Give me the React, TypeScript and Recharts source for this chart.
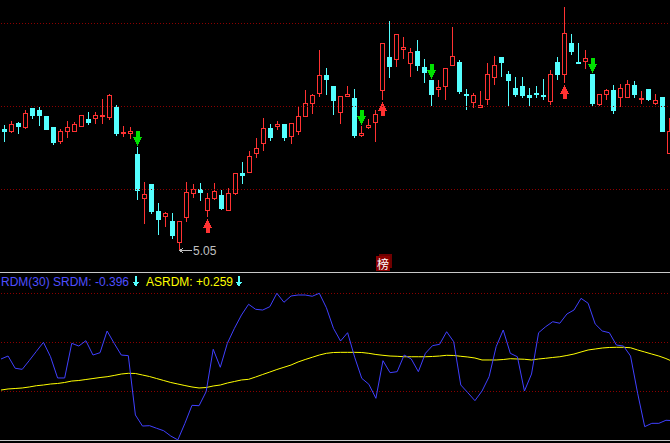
import { Bar, ComposedChart, Line, ReferenceLine, XAxis, YAxis } from "recharts";

// daily candles, price units
const OPEN = [
  6.263, 6.243, 6.323, 6.283, 6.47, 6.45, 6.39, 6.28, 6.143, 6.243,
  6.243, 6.287, 6.36, 6.373, 6.39, 6.383, 6.48, 6.217, 6.223, 6.01,
  5.573, 5.71, 5.44, 5.393, 5.34, 5.133, 5.383, 5.617, 5.66, 5.453,
  5.573, 5.6, 5.453, 5.623, 5.817, 5.833, 6.023, 6.123, 6.27, 6.293,
  6.31, 6.193, 6.243, 6.393, 6.517, 6.623, 6.8, 6.69, 6.433, 6.593,
  6.57, 6.203, 6.283, 6.333, 6.653, 6.98, 6.957, 7.063, 6.923, 7.04,
  6.88, 6.75, 6.663, 6.693, 6.903, 6.93, 6.61, 6.527, 6.483, 6.557,
  6.783, 6.98, 6.81, 6.67, 6.69, 6.6, 6.623, 6.603, 6.543, 6.93,
  6.813, 7.12, 6.93, 6.94, 6.81, 6.513, 6.613, 6.65, 6.58, 6.58,
  6.7, 6.56, 6.66, 6.523, 6.58, 6.023,
];
const HIGH = [
  6.3, 6.337, 6.333, 6.447, 6.47, 6.477, 6.39, 6.28, 6.26, 6.34,
  6.327, 6.397, 6.43, 6.43, 6.56, 6.61, 6.5, 6.29, 6.28, 6.08,
  5.73, 5.71, 5.52, 5.427, 5.42, 5.34, 5.73, 5.71, 5.72, 5.62,
  5.72, 5.65, 5.67, 5.817, 5.93, 6.04, 6.17, 6.37, 6.31, 6.34,
  6.31, 6.317, 6.48, 6.65, 6.61, 7.05, 6.87, 6.69, 6.587, 6.69,
  6.66, 6.293, 6.36, 6.447, 7.12, 7.34, 7.21, 7.18, 7.07, 7.15,
  6.96, 6.75, 6.75, 6.87, 7.28, 6.947, 6.66, 6.62, 6.64, 6.92,
  6.99, 6.98, 6.84, 6.78, 6.78, 6.67, 6.69, 6.76, 6.85, 6.98,
  7.48, 7.21, 7.12, 7.05, 6.81, 6.607, 6.663, 6.7, 6.71, 6.75,
  6.74, 6.64, 6.66, 6.61, 6.58, 6.373,
];
const LOW = [
  6.14, 6.23, 6.223, 6.27, 6.373, 6.303, 6.263, 6.113, 6.123, 6.18,
  6.243, 6.287, 6.31, 6.323, 6.323, 6.36, 6.203, 6.193, 6.173, 5.56,
  5.32, 5.42, 5.21, 5.293, 5.173, 5.05, 5.343, 5.583, 5.553, 5.39,
  5.56, 5.457, 5.453, 5.613, 5.723, 5.833, 5.98, 6.053, 6.15, 6.26,
  6.153, 6.123, 6.213, 6.393, 6.423, 6.593, 6.613, 6.413, 6.323, 6.593,
  6.183, 6.19, 6.27, 6.143, 6.563, 6.783, 6.893, 6.97, 6.79, 6.85,
  6.733, 6.5, 6.593, 6.563, 6.903, 6.623, 6.463, 6.483, 6.483, 6.513,
  6.713, 6.79, 6.5, 6.59, 6.58, 6.49, 6.58, 6.56, 6.513, 6.76,
  6.733, 7.01, 6.92, 6.87, 6.5, 6.503, 6.56, 6.42, 6.49, 6.58,
  6.58, 6.52, 6.55, 6.51, 6.243, 6.023,
];
const CLOSE = [
  6.24, 6.31, 6.293, 6.417, 6.403, 6.403, 6.263, 6.13, 6.24, 6.277,
  6.31, 6.397, 6.333, 6.4, 6.4, 6.6, 6.22, 6.23, 6.237, 5.653,
  5.61, 5.44, 5.363, 5.42, 5.2, 5.34, 5.63, 5.66, 5.633, 5.57,
  5.637, 5.47, 5.617, 5.817, 5.797, 5.99, 6.067, 6.27, 6.183, 6.307,
  6.183, 6.317, 6.39, 6.52, 6.6, 6.8, 6.76, 6.553, 6.587, 6.607,
  6.203, 6.22, 6.297, 6.41, 7.12, 6.893, 7.21, 7.077, 7.027, 6.9,
  6.833, 6.613, 6.677, 6.87, 6.99, 6.643, 6.597, 6.6, 6.5, 6.807,
  6.897, 6.93, 6.75, 6.61, 6.6, 6.58, 6.61, 6.59, 6.81, 6.81,
  7.22, 7.04, 6.92, 6.97, 6.52, 6.607, 6.65, 6.453, 6.67, 6.71,
  6.61, 6.573, 6.56, 6.55, 6.243, 6.24,
];

// signal markers (candle index)
const BUY_AT = [29, 54, 80];
const SELL_AT = [19, 51, 61, 84];

// RDM(30) indicator
const SRDM = [
  0.289, 0.322, 0.186, 0.174, 0.272, 0.374, 0.474, 0.314, 0.078, 0.078,
  0.463, 0.433, 0.492, 0.333, 0.359, 0.6, 0.463, 0.333, 0.326, -0.333,
  -0.456, -0.452, -0.481, -0.508, -0.567, -0.61, -0.426, -0.226, -0.23, -0.074,
  0.397, 0.197, 0.463, 0.63, 0.778, 0.897, 0.841, 0.833, 0.87, 1.019,
  0.919, 0.989, 1.0, 1.0, 0.986, 1.019, 0.859, 0.63, 0.489, 0.581,
  0.308, 0.074, 0.008, -0.148, 0.27, 0.137, 0.148, 0.333, 0.289, 0.148,
  0.352, 0.437, 0.452, 0.592, 0.481, 0.0, -0.086, -0.174, -0.067, 0.092,
  0.426, 0.611, 0.352, 0.314, -0.067, 0.122, 0.581, 0.648, 0.703, 0.686,
  0.789, 0.833, 0.963, 0.908, 0.678, 0.6, 0.581, 0.444, 0.433, 0.322,
  -0.092, -0.463, -0.426, -0.426, -0.392, -0.396,
];
const ASRDM = [
  -0.056, -0.044, -0.039, -0.033, -0.022, -0.008, 0.0, 0.011, 0.017, 0.028,
  0.044, 0.05, 0.061, 0.072, 0.083, 0.092, 0.106, 0.122, 0.13, 0.128,
  0.111, 0.094, 0.072, 0.05, 0.028, 0.011, -0.006, -0.022, -0.033, -0.028,
  -0.011, 0.0, 0.022, 0.039, 0.056, 0.063, 0.089, 0.117, 0.144, 0.172,
  0.197, 0.222, 0.256, 0.283, 0.308, 0.333, 0.352, 0.361, 0.363, 0.363,
  0.363, 0.361, 0.352, 0.339, 0.33, 0.322, 0.319, 0.314, 0.314, 0.314,
  0.314, 0.317, 0.322, 0.33, 0.328, 0.319, 0.311, 0.3, 0.278, 0.278,
  0.278, 0.283, 0.292, 0.289, 0.286, 0.278, 0.289, 0.297, 0.306, 0.314,
  0.328, 0.344, 0.367, 0.389, 0.4, 0.411, 0.417, 0.419, 0.419, 0.414,
  0.389, 0.367, 0.344, 0.322, 0.294, 0.259,
];

const PRICE_GRID = [7.315, 6.485, 5.655];
const RDM_GRID = [1.0167, 0.4722, -0.0722];

const RED = "#ff3232";
const CYAN = "#54ffff";
const GREEN = "#00e000";
const GRID = "#8c0000";
const FONT = "'Liberation Sans', Arial, sans-serif";

const MIN_LOW = Math.min(...LOW);

const candles = OPEN.map((o, i) => ({
  i,
  open: o,
  high: HIGH[i],
  low: LOW[i],
  close: CLOSE[i],
  range: [LOW[i], HIGH[i]],
  buy: BUY_AT.includes(i),
  sell: SELL_AT.includes(i),
}));

const rdm = SRDM.map((s, i) => ({ i, srdm: s, asrdm: ASRDM[i] }));

function Candle(props: any) {
  const { x, y, width, height, payload } = props;
  const { open, high, low, close } = payload;
  const k = high === low ? 0 : height / (high - low);
  const py = (p: number) => Math.round(y + (high - p) * k);
  const up = close >= open;
  const color = up ? RED : CYAN;
  const left = Math.round(x);
  const w = Math.round(width);
  const cx = left + Math.floor(w / 2);
  const hi = py(high);
  const lo = py(low);
  const top = py(Math.max(open, close));
  const bot = py(Math.min(open, close));

  const parts: any[] = [];
  if (up) {
    if (top > hi) parts.push(<rect key="wt" x={cx} y={hi} width={1} height={top - hi} fill={color} />);
    if (lo > bot) parts.push(<rect key="wb" x={cx} y={bot + 1} width={1} height={lo - bot} fill={color} />);
    if (bot - top < 2) {
      parts.push(<rect key="b" x={left} y={top} width={w} height={bot - top + 1} fill={color} />);
    } else {
      parts.push(
        <rect key="b" x={left + 0.5} y={top + 0.5} width={w - 1} height={bot - top} fill="none" stroke={color} />
      );
    }
  } else {
    parts.push(<rect key="w" x={cx} y={hi} width={1} height={lo - hi + 1} fill={color} />);
    parts.push(<rect key="b" x={left} y={top} width={w} height={bot - top + 1} fill={color} />);
  }

  const tx = cx + 0.5;
  if (payload.sell) {
    const ty = hi - 1;
    parts.push(
      <polygon
        key="s"
        points={`${tx - 2},${ty - 15} ${tx + 2},${ty - 15} ${tx + 2},${ty - 9} ${tx + 4.5},${ty - 9} ${tx},${ty} ${tx - 4.5},${ty - 9} ${tx - 2},${ty - 9}`}
        fill={GREEN}
      />
    );
  }
  if (payload.buy) {
    const ty = lo + 3;
    parts.push(
      <polygon
        key="u"
        points={`${tx},${ty} ${tx + 4.5},${ty + 9} ${tx + 2},${ty + 9} ${tx + 2},${ty + 14} ${tx - 2},${ty + 14} ${tx - 2},${ty + 9} ${tx - 4.5},${ty + 9}`}
        fill={RED}
      />
    );
  }
  if (low === MIN_LOW) {
    const ly = lo + 0.5;
    parts.push(
      <g key="m">
        <line x1={cx + 1} y1={ly} x2={cx + 13} y2={ly} stroke="#c0c0c0" />
        <polyline points={`${cx + 4},${ly - 2.5} ${cx + 1},${ly} ${cx + 4},${ly + 2.5}`} fill="none" stroke="#c0c0c0" />
        <text x={cx + 14} y={lo + 5} fill="#c0c0c0" fontSize={12} fontFamily={FONT}>
          {low.toFixed(2)}
        </text>
      </g>
    );
  }
  return <g shapeRendering="crispEdges">{parts}</g>;
}

function DownArrow({ left }: { left: number }) {
  return (
    <svg width={6} height={12} style={{ position: "absolute", left, top: 276 }} shapeRendering="crispEdges">
      <rect x={2} y={0} width={2} height={7} fill={CYAN} />
      <polygon points="0,6 6,6 3,11" fill={CYAN} />
    </svg>
  );
}

export default function App() {
  const last = SRDM.length - 1;
  return (
    <div style={{ position: "relative", width: 670, height: 443, overflow: "hidden", background: "#000" }}>
      <style>{"body{margin:0;background:#000}"}</style>
      <div style={{ position: "absolute", left: 0, top: 0 }}>
        <ComposedChart width={673} height={270} data={candles} margin={{ top: 0, right: 0, bottom: 0, left: 1 }}>
          <XAxis dataKey="i" hide />
          <YAxis hide domain={[4.85, 7.55]} allowDataOverflow />
          {PRICE_GRID.map((p) => (
            <ReferenceLine key={p} y={p} stroke={GRID} strokeDasharray="1 2" />
          ))}
          <Bar dataKey="range" barSize={5} shape={Candle} isAnimationActive={false} />
        </ComposedChart>
      </div>

      <div style={{ position: "absolute", left: 0, top: 272 }}>
        <ComposedChart width={673} height={168} data={rdm} margin={{ top: 0, right: 0, bottom: 0, left: 1 }}>
          <XAxis dataKey="i" hide />
          <YAxis hide domain={[-0.61111, 1.25556]} allowDataOverflow />
          {RDM_GRID.map((v) => (
            <ReferenceLine key={v} y={v} stroke={GRID} strokeDasharray="1 2" />
          ))}
          <Line dataKey="asrdm" stroke="#ffff00" strokeWidth={1} dot={false} activeDot={false} isAnimationActive={false} />
          <Line dataKey="srdm" stroke="#4040ff" strokeWidth={1} dot={false} activeDot={false} isAnimationActive={false} />
        </ComposedChart>
      </div>

      <div style={{ position: "absolute", left: 0, top: 272, width: 670, height: 1, background: "#c8c8c8" }} />
      <div style={{ position: "absolute", left: 0, top: 440, width: 670, height: 1, background: "#c8c8c8" }} />

      <div style={{ position: "absolute", left: 0, top: 275, height: 14, width: 670, fontFamily: FONT, fontSize: 12, lineHeight: "14px", whiteSpace: "nowrap" }}>
        <span style={{ position: "absolute", left: 1, color: "#4f4fff" }}>
          RDM(30) SRDM: {SRDM[last].toFixed(3)}
        </span>
        <span style={{ position: "absolute", left: 146, color: "#ffff00" }}>
          ASRDM: +{ASRDM[last].toFixed(3)}
        </span>
      </div>
      <DownArrow left={133} />
      <DownArrow left={236} />

      <div style={{ position: "absolute", left: 379, top: 254, width: 13, height: 14, background: "#6e0000" }} />
      <div
        style={{
          position: "absolute",
          left: 376,
          top: 256,
          width: 14,
          height: 15,
          background: "#8b0000",
          color: "#fff",
          fontFamily: "'Noto Sans CJK SC', sans-serif",
          fontSize: 12,
          lineHeight: "15px",
          textAlign: "center",
        }}
      >
        榜
      </div>
    </div>
  );
}
